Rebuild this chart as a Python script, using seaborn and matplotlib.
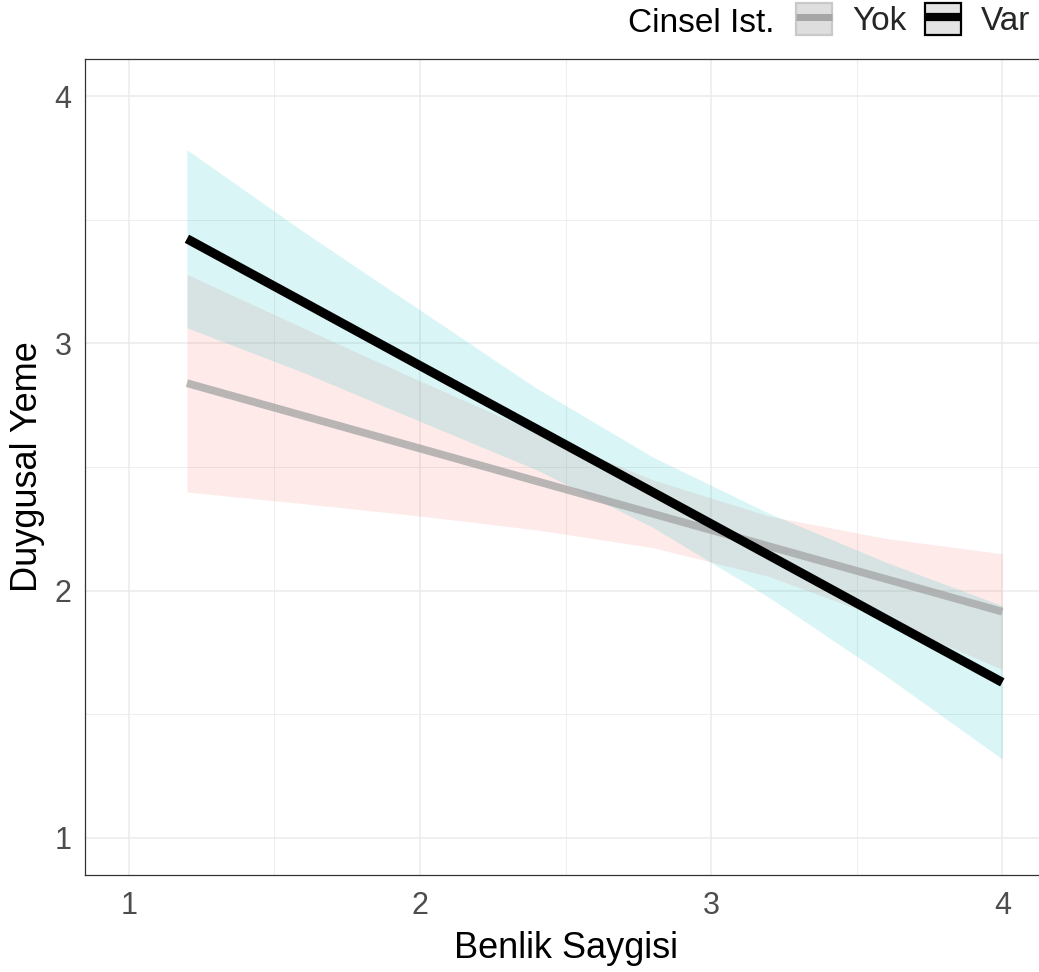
import numpy as np
import pandas as pd
import matplotlib
matplotlib.use("Agg")
import matplotlib.pyplot as plt
import seaborn as sns
from matplotlib.patches import Rectangle
from matplotlib.lines import Line2D
from matplotlib.legend_handler import HandlerTuple

# ---- data ----
x_vals = [1.2, 1.6, 2.0, 2.4, 2.8, 3.2, 3.6, 4.0]
yok_fit = [2.839, 2.707, 2.575, 2.443, 2.311, 2.179, 2.047, 1.915]
yok_lower = [2.399, 2.352, 2.302, 2.246, 2.174, 2.057, 1.883, 1.681]
yok_upper = [3.279, 3.062, 2.848, 2.640, 2.448, 2.301, 2.211, 2.149]
var_fit = [3.423, 3.167, 2.910, 2.654, 2.398, 2.142, 1.885, 1.629]
var_lower = [3.063, 2.882, 2.685, 2.489, 2.256, 1.972, 1.655, 1.319]
var_upper = [3.783, 3.452, 3.135, 2.819, 2.540, 2.312, 2.115, 1.939]
groups = ["Yok", "Var"]
x_ticks = [1, 2, 3, 4]
y_ticks = [1, 2, 3, 4]
legend_title = "Cinsel Ist."
x_label = "Benlik Saygisi"
y_label = "Duygusal Yeme"

df = pd.concat([
    pd.DataFrame({"x": x_vals, "fit": yok_fit, "lo": yok_lower, "hi": yok_upper, "group": "Yok"}),
    pd.DataFrame({"x": x_vals, "fit": var_fit, "lo": var_lower, "hi": var_upper, "group": "Var"}),
], ignore_index=True)

sns.set_theme(style="white")
plt.rcParams["font.family"] = ["Liberation Sans", "DejaVu Sans"]

W, H = 1039, 972
fig = plt.figure(figsize=(W / 100, H / 100), dpi=100)
ax = fig.add_axes([85 / W, 97 / H, 961 / W, 816 / H])

band_col = {"Yok": "#F8766D", "Var": "#00BFC4"}
line_col = {"Yok": "#A6A6A6", "Var": "#000000"}
line_alpha = {"Yok": 0.78, "Var": 1.0}
line_w = {"Yok": 5.6, "Var": 6.6}

for i, g in enumerate(groups):
    sub = df[df["group"] == g]
    ax.fill_between(sub["x"], sub["lo"], sub["hi"], color=band_col[g], alpha=0.15,
                    linewidth=0, zorder=2 + i)
for i, g in enumerate(groups):
    sub = df[df["group"] == g]
    sns.lineplot(data=sub, x="x", y="fit", color=line_col[g], linewidth=line_w[g],
                 alpha=line_alpha[g], ax=ax, zorder=5 + i, solid_capstyle="butt", legend=False)

ax.set_xlim(0.85, 4.15)
ax.set_ylim(0.85, 4.15)
ax.set_xticks(x_ticks)
ax.set_yticks(y_ticks)
ax.set_xticks([1.5, 2.5, 3.5], minor=True)
ax.set_yticks([1.5, 2.5, 3.5], minor=True)
ax.set_xticklabels([str(t) for t in x_ticks])
ax.set_yticklabels([str(t) for t in y_ticks])
ax.grid(which="major", color="#EBEBEB", linewidth=1.1, zorder=0)
ax.grid(which="minor", color="#EBEBEB", linewidth=0.6, zorder=0)
ax.set_axisbelow(True)
ax.tick_params(axis="both", which="major", length=5.8, width=0.9, color="#333333",
               labelsize=22, labelcolor="#4D4D4D", pad=4, direction="out")
ax.tick_params(axis="x", which="major", pad=6)
ax.tick_params(axis="both", which="minor", length=0)
for s in ax.spines.values():
    s.set_color("#333333")
    s.set_linewidth(0.9)
ax.set_xlabel(x_label, fontsize=26, color="black", labelpad=7)
ax.set_ylabel(y_label, fontsize=26, color="black", labelpad=7)

# legend (horizontal, title to the left)
handles = []
key_fill = {"Yok": "#DEDEDE", "Var": "#E3E3E3"}
key_edge = {"Yok": "#C9C9C9", "Var": "#000000"}
for g in groups:
    p = Rectangle((0, 0), 1, 1, facecolor=key_fill[g], edgecolor=key_edge[g], linewidth=1.6)
    l = Line2D([0], [0], color=line_col[g], linewidth=line_w[g] * 0.9, solid_capstyle="butt")
    handles.append((p, l))
leg = fig.legend(handles, groups, handler_map={tuple: HandlerTuple(ndivide=1, pad=0)},
                 loc="upper right", bbox_to_anchor=(1030 / W, 1 - 3 / H),
                 ncol=2, frameon=False, fontsize=24, handlelength=1.08, handleheight=1.08,
                 handletextpad=0.6, columnspacing=0.55, borderpad=0, borderaxespad=0)
fig.text(628 / W, 1 - 23 / H, legend_title, fontsize=24, ha="left", va="center", color="black")

fig.savefig("out.png", dpi=100)
